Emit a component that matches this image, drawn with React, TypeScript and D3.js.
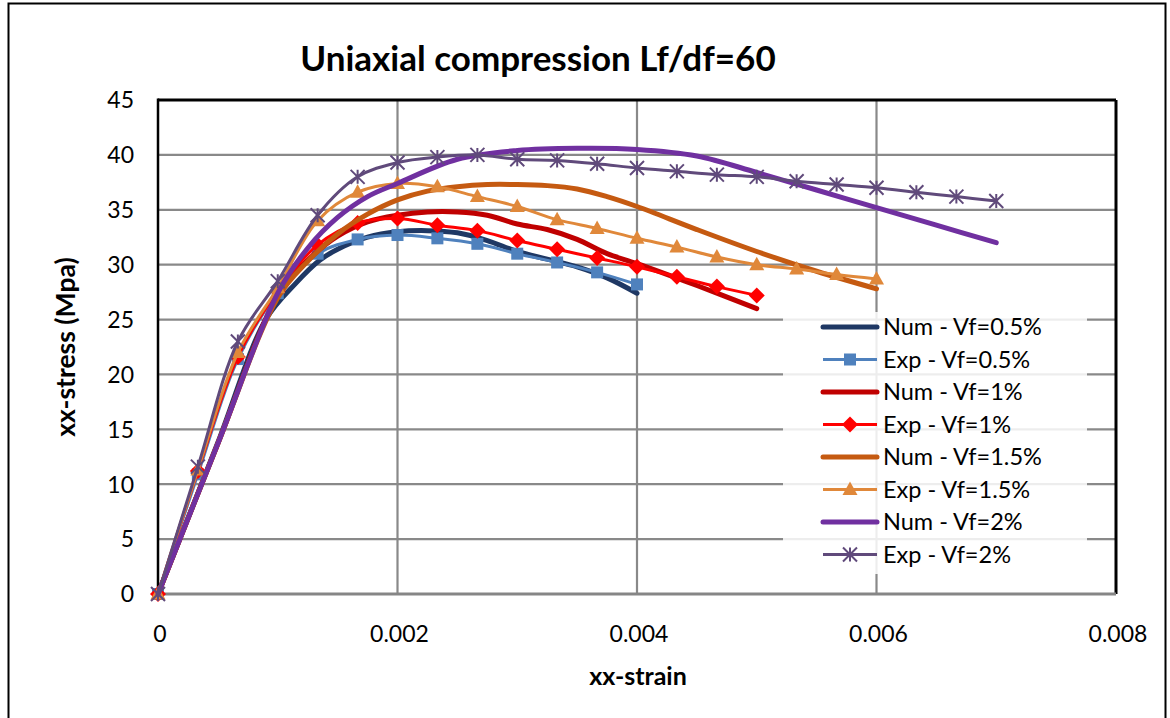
import React from 'react';
import * as d3 from 'd3';

const W = 1170;
const H = 718;

const xTicks = [0, 0.002, 0.004, 0.006, 0.008];
const xTickLabels = ['0', '0.002', '0.004', '0.006', '0.008'];
const yTicks = [0, 5, 10, 15, 20, 25, 30, 35, 40, 45];

// Experimental strains (every 1/3000)
const expStrain = [0, 0.000333, 0.000667, 0.001, 0.001333, 0.001667, 0.002, 0.002333, 0.002667, 0.003, 0.003333, 0.003667, 0.004, 0.004333, 0.004667, 0.005, 0.005333, 0.005667, 0.006, 0.006333, 0.006667, 0.007];
const exp05 = [0, 10.9, 21.4, 27.4, 31.0, 32.3, 32.7, 32.4, 31.9, 31.0, 30.2, 29.3, 28.2];
const exp1 = [0, 11.2, 21.6, 27.6, 31.8, 33.8, 34.2, 33.6, 33.1, 32.2, 31.4, 30.6, 29.8, 28.9, 28.0, 27.2];
const exp15 = [0, 11.3, 22.0, 27.9, 34.0, 36.6, 37.4, 37.1, 36.2, 35.3, 34.1, 33.3, 32.4, 31.6, 30.7, 30.0, 29.6, 29.1, 28.7];
const exp2 = [0, 11.6, 23.0, 28.5, 34.5, 38.0, 39.3, 39.8, 40.0, 39.6, 39.5, 39.2, 38.8, 38.5, 38.2, 38.0, 37.6, 37.3, 37.0, 36.6, 36.2, 35.8];

// Numerical curves
const num05Strain = [0, 0.0005, 0.0009, 0.00115, 0.00135, 0.0015, 0.00175, 0.002, 0.00225, 0.0025, 0.00275, 0.003, 0.00325, 0.0035, 0.00375, 0.004];
const num05 = [0, 13.8, 25.0, 28.3, 30.4, 31.4, 32.5, 33.0, 33.1, 32.9, 32.2, 31.2, 30.5, 29.8, 28.8, 27.4];
const num1Strain = [0, 0.0005, 0.001, 0.00125, 0.0015, 0.00175, 0.002, 0.00225, 0.0025, 0.00275, 0.003, 0.00325, 0.0035, 0.00375, 0.004, 0.0045, 0.005];
const num1 = [0, 13.7, 27.2, 30.4, 32.6, 33.9, 34.5, 34.8, 34.8, 34.5, 33.7, 33.2, 32.3, 31.0, 30.1, 28.1, 26.0];
const num15Strain = [0, 0.0005, 0.001, 0.00125, 0.0015, 0.00175, 0.002, 0.00225, 0.0025, 0.00275, 0.003, 0.00325, 0.0035, 0.00375, 0.004, 0.0045, 0.005, 0.0055, 0.006];
const num15 = [0, 13.7, 27.0, 30.3, 32.8, 34.6, 35.9, 36.7, 37.1, 37.3, 37.3, 37.2, 36.9, 36.2, 35.3, 33.2, 31.2, 29.4, 27.8];
const num2Strain = [0, 0.0005, 0.001, 0.00125, 0.0015, 0.00175, 0.002, 0.0025, 0.003, 0.0035, 0.004, 0.0045, 0.005, 0.0055, 0.006, 0.0065, 0.007];
const num2 = [0, 13.7, 27.4, 31.5, 34.3, 36.2, 37.4, 39.6, 40.4, 40.6, 40.5, 39.9, 38.4, 36.8, 35.2, 33.6, 32.0];

const seriesNames = ['Num - Vf=0.5%', 'Exp - Vf=0.5%', 'Num - Vf=1%', 'Exp - Vf=1%', 'Num - Vf=1.5%', 'Exp - Vf=1.5%', 'Num - Vf=2%', 'Exp - Vf=2%'];
const seriesColors = ['#1f3864', '#4f81bd', '#c00000', '#ff0000', '#c55a11', '#e0883a', '#7030a0', '#604a7b'];
const seriesMarkers = ['none', 'square', 'none', 'diamond', 'none', 'triangle', 'none', 'star'];

const zip = (xs: number[], ys: number[]) => ys.map((y, i) => [xs[i], y] as [number, number]);

const seriesData: [number, number][][] = [
  zip(num05Strain, num05),
  zip(expStrain, exp05),
  zip(num1Strain, num1),
  zip(expStrain, exp1),
  zip(num15Strain, num15),
  zip(expStrain, exp15),
  zip(num2Strain, num2),
  zip(expStrain, exp2),
];

const FONT = 'Lato, Carlito, sans-serif';

function Marker({ kind, x, y, color }: { kind: string; x: number; y: number; color: string }) {
  if (kind === 'square') {
    return <rect x={x - 6} y={y - 6} width={12} height={12} fill={color} />;
  }
  if (kind === 'diamond') {
    return <path d={`M${x},${y - 8}L${x + 8},${y}L${x},${y + 8}L${x - 8},${y}Z`} fill={color} />;
  }
  if (kind === 'triangle') {
    return <path d={`M${x},${y - 8}L${x + 7.5},${y + 5.5}L${x - 7.5},${y + 5.5}Z`} fill={color} />;
  }
  if (kind === 'star') {
    const r = 7;
    return (
      <path
        d={`M${x},${y - r}L${x},${y + r}M${x - r},${y - r}L${x + r},${y + r}M${x - r},${y + r}L${x + r},${y - r}`}
        stroke={color}
        strokeWidth={2}
        fill="none"
      />
    );
  }
  return null;
}

export default function App() {
  const x = d3.scaleLinear().domain([0, 0.008]).range([158, 1116]);
  const y = d3.scaleLinear().domain([0, 45]).range([594, 100]);
  const line = d3
    .line<[number, number]>()
    .x((d) => x(d[0]))
    .y((d) => y(d[1]))
    .curve(d3.curveCatmullRom.alpha(0.5));

  const legendX = 783;
  const legendY = 312;
  const legendRowH = 32.5;

  return (
    <svg width={W} height={H} style={{ display: 'block', position: 'absolute', left: 0, top: 0 }} fontFamily={FONT}>
      <rect x={0} y={0} width={W} height={H} fill="#fff" />
      <rect x={8.5} y={3.5} width={1157} height={720} fill="none" stroke="#000" strokeWidth={2} />

      {/* gridlines */}
      {yTicks.map((t) => (
        <line key={'h' + t} x1={x(0)} x2={x(0.008)} y1={y(t)} y2={y(t)} stroke="#898989" strokeWidth={2.2} />
      ))}
      {xTicks.slice(1, 4).map((t) => (
        <line key={'v' + t} x1={x(t)} x2={x(t)} y1={y(0)} y2={y(45)} stroke="#898989" strokeWidth={2.2} />
      ))}
      {/* plot border */}
      <line x1={x(0)} x2={x(0.008)} y1={y(45)} y2={y(45)} stroke="#000" strokeWidth={3} />
      <line x1={x(0.008)} x2={x(0.008)} y1={y(45)} y2={y(0)} stroke="#000" strokeWidth={3} />
      <line x1={x(0)} x2={x(0)} y1={y(45) - 1.5} y2={y(0) + 1.5} stroke="#000" strokeWidth={2.5} />
      <line x1={x(0)} x2={x(0.008)} y1={y(0)} y2={y(0)} stroke="#868686" strokeWidth={3} />

      {/* tick labels */}
      {yTicks.map((t) => (
        <text key={'yl' + t} x={134} y={y(t)} dy="0.36em" textAnchor="end" fontSize={23} fill="#000">
          {t}
        </text>
      ))}
      {xTicks.map((t, i) => (
        <text key={'xl' + t} x={x(t) + 2} y={642} textAnchor="middle" fontSize={23} fill="#000">
          {xTickLabels[i]}
        </text>
      ))}

      {/* series */}
      {seriesData.map((data, i) => (
        <g key={'s' + i}>
          <path
            d={line(data) || ''}
            fill="none"
            stroke={seriesColors[i]}
            strokeWidth={seriesMarkers[i] === 'none' ? 5 : 3}
            strokeLinecap="round"
            strokeLinejoin="round"
          />
          {seriesMarkers[i] !== 'none' &&
            data.map((d, j) => <Marker key={j} kind={seriesMarkers[i]} x={x(d[0])} y={y(d[1])} color={seriesColors[i]} />)}
        </g>
      ))}

      {/* legend */}
      <rect x={legendX} y={legendY} width={304} height={262} fill="#fff" opacity={0.85} />
      {seriesNames.map((name, i) => {
        const cy = legendY + 15 + i * legendRowH;
        const isNum = seriesMarkers[i] === 'none';
        return (
          <g key={'lg' + i}>
            <line
              x1={823}
              x2={877}
              y1={cy}
              y2={cy}
              stroke={seriesColors[i]}
              strokeWidth={isNum ? 5 : 3}
              strokeLinecap={isNum ? 'round' : 'butt'}
            />
            {!isNum && <Marker kind={seriesMarkers[i]} x={850} y={cy} color={seriesColors[i]} />}
            <text x={883} y={cy} dy="0.36em" fontSize={23.5} fill="#000">
              {name}
            </text>
          </g>
        );
      })}

      {/* titles */}
      <text x={538} y={71} textAnchor="middle" fontSize={35} fontWeight="bold" fill="#000">
        Uniaxial compression Lf/df=60
      </text>
      <text x={638} y={685} textAnchor="middle" fontSize={25} fontWeight="bold" fill="#000">
        xx-strain
      </text>
      <text
        transform={`translate(75, ${y(22.5)}) rotate(-90)`}
        textAnchor="middle"
        fontSize={26.5}
        fontWeight="bold"
        fill="#000"
      >
        xx-stress (Mpa)
      </text>
    </svg>
  );
}
